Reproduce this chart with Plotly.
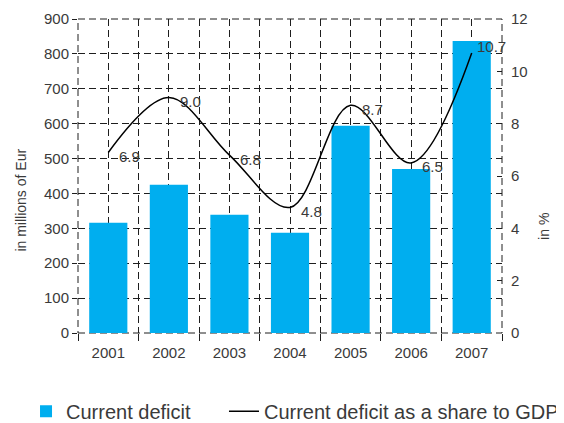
import plotly.graph_objects as go

years = [2001, 2002, 2003, 2004, 2005, 2006, 2007]
deficit = [316, 425, 339, 287, 594, 470, 837]
share_gdp = [6.9, 9.0, 6.8, 4.8, 8.7, 6.5, 10.7]
share_labels = ["6.9", "9.0", "6.8", "4.8", "8.7", "6.5", "10.7"]
label_xshift = [9, 9, 9, 9, 9, 9, 3]
label_yshift = [-4, -4, -4, -4, -4, -4, 7]

FONT = "Liberation Sans"
TXT = "#3a3a3a"
GRID = "#1e1e1e"
DASH = "7px,4px"

fig = go.Figure()
fig.add_trace(go.Bar(
    x=years, y=deficit, name="Current deficit",
    marker=dict(color="#00AEEF", line=dict(width=0)),
    width=0.63, legend="legend", showlegend=True,
))
fig.add_trace(go.Scatter(
    x=years, y=share_gdp, name="Current deficit as a share to GDP",
    yaxis="y2", mode="lines", legend="legend2", showlegend=True,
    line=dict(color="black", width=1.5, shape="spline", smoothing=1.0),
))

for x, y, t, xs, ys in zip(years, share_gdp, share_labels, label_xshift, label_yshift):
    fig.add_annotation(x=x, y=y, yref="y2", xref="x", text=t, showarrow=False,
                       xanchor="left", yanchor="middle", xshift=xs, yshift=ys,
                       font=dict(family=FONT, size=15, color=TXT))

fig.add_annotation(x=-0.135, y=0.424, xref="paper", yref="paper",
                   xanchor="center", yanchor="middle",
                   text="in millions of Eur", textangle=-90, showarrow=False,
                   font=dict(family=FONT, size=14, color=TXT))
fig.add_annotation(x=1.099, y=0.341, xref="paper", yref="paper",
                   xanchor="center", yanchor="middle",
                   text="in %", textangle=-90, showarrow=False,
                   font=dict(family=FONT, size=14, color=TXT))

# dashed frame around the plot area
fig.add_shape(type="rect", xref="paper", yref="paper", x0=0, x1=1, y0=0, y1=1,
              line=dict(color=GRID, width=1, dash=DASH), layer="below")

leg_common = dict(orientation="h", yanchor="top", y=-0.187,
                  font=dict(family=FONT, size=20, color=TXT),
                  itemwidth=30, bgcolor="rgba(0,0,0,0)")

# page body has an 8px margin, so the figure is 8px smaller and margins shifted
fig.update_layout(
    width=556, height=415,
    margin=dict(l=70, r=62, t=11, b=90, autoexpand=False),
    showlegend=True,
    paper_bgcolor="white", plot_bgcolor="white",
    font=dict(family=FONT, size=15, color=TXT),
    xaxis=dict(
        range=[2000.5, 2007.5], tickvals=years, ticktext=[str(y) for y in years],
        showgrid=True, gridcolor=GRID, griddash=DASH, gridwidth=1,
        ticks="", zeroline=False, showline=False, ticklabelstandoff=9,
        tickfont=dict(size=15, color=TXT),
        minor=dict(tick0=2000.5, dtick=1, showgrid=True, gridcolor=GRID,
                   griddash=DASH, gridwidth=1, ticks="outside", ticklen=7,
                   tickcolor=GRID),
    ),
    yaxis=dict(
        range=[0, 900], dtick=100, showgrid=True, gridcolor=GRID,
        griddash=DASH, gridwidth=1, zeroline=False, showline=False,
        ticks="outside", ticklen=5, tickcolor=GRID,
        tickfont=dict(size=15, color=TXT),
    ),
    yaxis2=dict(
        range=[0, 12], dtick=2, overlaying="y", side="right",
        showgrid=False, zeroline=False, showline=False,
        ticks="inside", ticklen=5, tickcolor=GRID, ticklabelstandoff=8,
        tickfont=dict(size=15, color=TXT),
    ),
    legend=dict(x=-0.1226, xanchor="left", **leg_common),
    legend2=dict(x=0.3443, xanchor="left", **leg_common),
)

fig.write_html("out.html")
